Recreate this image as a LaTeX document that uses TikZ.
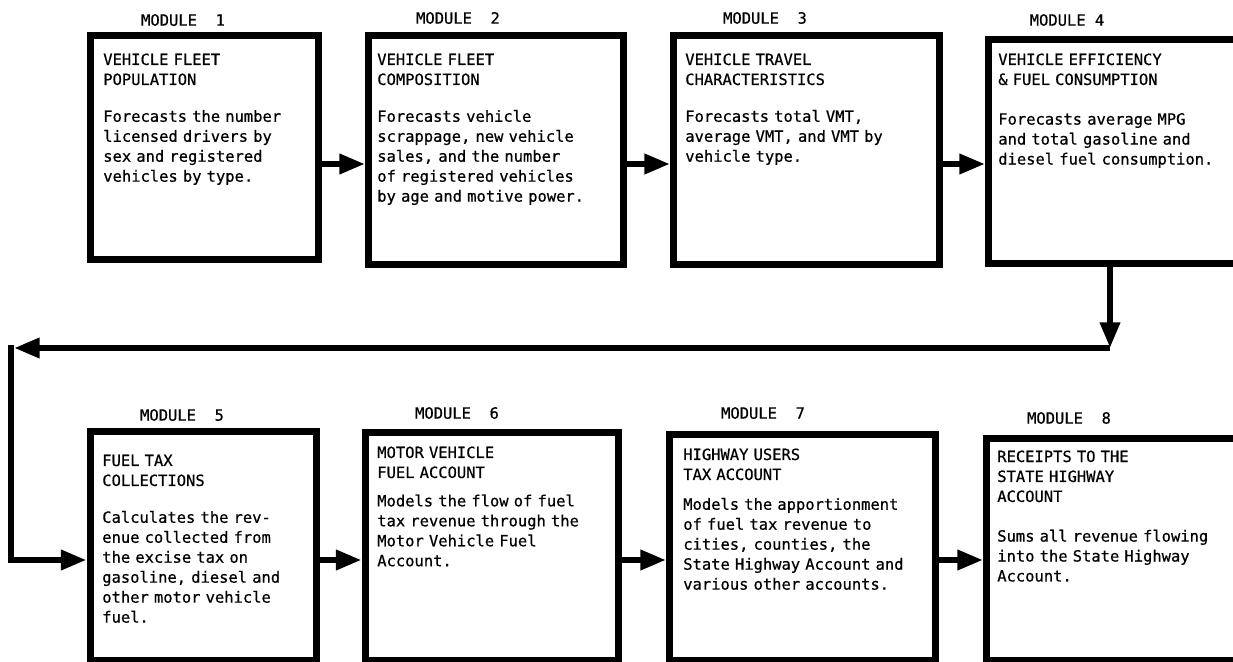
\documentclass[tikz,border=0pt]{standalone}
\usepackage{fontspec}
\usepackage{tikz}
\usetikzlibrary{arrows.meta}
\newfontfamily\modfont[FakeBold=0.6]{DejaVu Sans Mono}

\tikzset{
  modbox/.style={draw, line width=1.75mm, anchor=north west, inner sep=0pt},
  modtext/.style={anchor=base west, inner sep=0pt, text width=6.2cm, align=left,
    font=\modfont\fontsize{11pt}{14.2pt}\selectfont},
  modlabel/.style={inner sep=0pt, font=\modfont\fontsize{11pt}{14.2pt}\selectfont},
  flow/.style={line width=1.5mm, -{Triangle[length=6.4mm,width=4.8mm]}}
}

\begin{document}
\begin{tikzpicture}
		\useasboundingbox (0,0) rectangle (30.825,-16.55);
		\clip (0,0) rectangle (30.825,-16.55);

		% top row
		\node[modlabel] (L1) at (4.575,-0.5) {MODULE~~1};
		\node[modlabel] (L2) at (11.45,-0.45) {MODULE~~2};
		\node[modlabel] (L3) at (19.125,-0.45) {MODULE~~3};
		\node[modlabel] (L4) at (26.675,-0.5) {MODULE 4};

		\node[modbox, minimum width=5.7cm, minimum height=5.6cm] (B1) at (2.175,-0.8) {};
		\node[modbox, minimum width=6.375cm, minimum height=5.7125cm] (B2) at (9.125,-0.8125) {};
		\node[modbox, minimum width=6.65cm, minimum height=5.7125cm] (B3) at (16.75,-0.8125) {};
		\node[modbox, minimum width=6.6cm, minimum height=5.5875cm] (B4) at (24.625,-0.9125) {};

		\node[modtext] (T1) at (2.575,-1.625) {VEHICLE FLEET\\POPULATION\\[12pt]Forecasts the number\\licensed drivers by\\sex and registered\\vehicles by type.};
		\node[modtext] (T2) at (9.425,-1.625) {VEHICLE FLEET\\COMPOSITION\\[12pt]Forecasts vehicle\\scrappage, new vehicle\\sales, and the number\\of registered vehicles\\by age and motive power.};
		\node[modtext] (T3) at (17.125,-1.625) {VEHICLE TRAVEL\\CHARACTERISTICS\\[12pt]Forecasts total VMT,\\average VMT, and VMT by\\vehicle type.};
		\node[modtext] (T4) at (24.95,-1.625) {VEHICLE EFFICIENCY\\\& FUEL CONSUMPTION\\[14pt]Forecasts average MPG\\and total gasoline and\\diesel fuel consumption.};

		% bottom row
		\node[modlabel] (L5) at (4.55,-10.375) {MODULE~~5};
		\node[modlabel] (L6) at (11.425,-10.325) {MODULE~~6};
		\node[modlabel] (L7) at (19.075,-10.325) {MODULE~~7};
		\node[modlabel] (L8) at (26.725,-10.45) {MODULE~~8};

		\node[modbox, minimum width=5.6625cm, minimum height=5.725cm] (B5) at (2.1625,-10.7) {};
		\node[modbox, minimum width=6.3375cm, minimum height=5.6875cm] (B6) at (9.0375,-10.7375) {};
		\node[modbox, minimum width=6.6375cm, minimum height=5.6375cm] (B7) at (16.65,-10.7875) {};
		\node[modbox, minimum width=6.6375cm, minimum height=5.55cm] (B8) at (24.575,-10.875) {};

		\node[modtext] (T5) at (2.55,-11.65) {FUEL TAX\\COLLECTIONS\\[12pt]Calculates the rev-\\enue collected from\\the excise tax on\\gasoline, diesel and\\other motor vehicle\\fuel.};
		\node[modtext] (T6) at (9.425,-11.45) {MOTOR VEHICLE\\FUEL ACCOUNT\\[6pt]Models the flow of fuel\\tax revenue through the\\Motor Vehicle Fuel\\Account.};
		\node[modtext] (T7) at (17.075,-11.5) {HIGHWAY USERS\\TAX ACCOUNT\\[7pt]Models the apportionment\\of fuel tax revenue to\\cities, counties, the\\State Highway Account and\\various other accounts.};
		\node[modtext] (T8) at (24.925,-11.55) {RECEIPTS TO THE\\STATE HIGHWAY\\ACCOUNT\\[14pt]Sums all revenue flowing\\into the State Highway\\Account.};

		% arrows
		\coordinate (r1) at (0,-4.1);
		\coordinate (r2) at (0,-14.0);
		\coordinate (c1) at (27.75,-8.7);
		\coordinate (c2) at (0.275,-8.7);
		\coordinate (c3) at (0.275,-14.0);

		\draw[flow] (B1.east |- r1) -- (B2.west |- r1);
		\draw[flow] (B2.east |- r1) -- (B3.west |- r1);
		\draw[flow] (B3.east |- r1) -- (B4.west |- r1);

		\draw[flow] (B4.south -| c1) -- (c1);
		\draw[flow] (c1) -- ([xshift=0.75mm]c2);
		\draw[flow, line cap=rect] (c2) -- (c3) -- (B5.west |- c3);

		\draw[flow] (B5.east |- r2) -- (B6.west |- r2);
		\draw[flow] (B6.east |- r2) -- (B7.west |- r2);
		\draw[flow] (B7.east |- r2) -- (B8.west |- r2);
	\end{tikzpicture}
\end{document}
